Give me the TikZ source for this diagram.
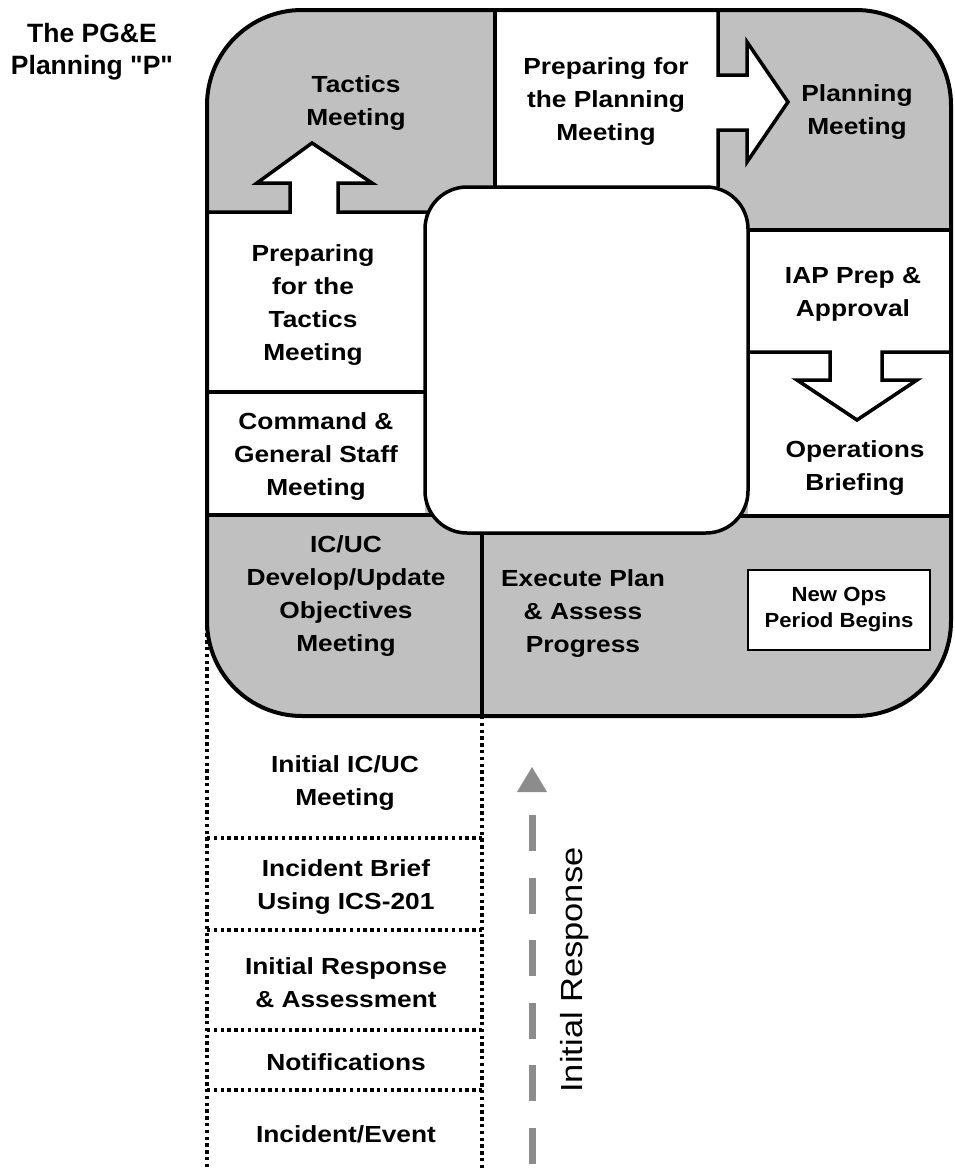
\documentclass[tikz,border=0pt]{standalone}
\usepackage{fontspec}
\setmainfont{Liberation Sans}
\newfontfamily\titlefont{Liberation Sans}
\newfontfamily\lblfont{Liberation Sans}[FakeStretch=1.13]
\newfontfamily\smallfont{Liberation Sans}[FakeStretch=1.08]
\definecolor{panelgray}{RGB}{192,192,192}
\definecolor{flowgray}{RGB}{140,140,140}
\begin{document}
\begin{tikzpicture}[x=1pt,y=-1pt,
  stagetext/.style={align=center, inner sep=0pt,
    font=\lblfont\bfseries\fontsize{23.3}{33}\selectfont},
  rule/.style={line width=3.5pt, line join=miter},
  dotline/.style={line width=3.4pt, dash pattern=on 3.4pt off 3.4pt},
]
\useasboundingbox (0,0) rectangle (954,1170);

% --- title ---
\node[align=center, inner sep=0pt, font=\titlefont\bfseries\fontsize{26.5}{32}\selectfont]
  (title) at (92,52) {The PG\&E\\Planning "P"};

% --- initial response column (dotted) ---
\draw[dotline] (207,613) -- (207,1170);
\draw[dotline] (482,716) -- (482,1170);
\draw[dotline] (207,838) -- (482,838);
\draw[dotline] (207,930) -- (482,930);
\draw[dotline] (207,1030) -- (482,1030);
\draw[dotline] (207,1090) -- (482,1090);

% --- planning cycle body ---
\fill[panelgray, rounded corners=95pt] (207,10) rectangle (951,716);
% white panels with their arrow shapes
\fill[white] (495,10) -- (718,10) -- (718,75) -- (747,75) -- (747,42) -- (788,102)
  -- (747,162) -- (747,130) -- (718,130) -- (718,187) -- (495,187) -- cycle;
\fill[white] (207,212) -- (290,212) -- (290,183) -- (257,183) -- (312,143) -- (372,183)
  -- (338,183) -- (338,212) -- (425,212) -- (425,515) -- (207,515) -- cycle;
\fill[white] (748,230) rectangle (951,516);

% dividers
\draw[rule] (495,10) -- (495,187);
\draw[rule] (718,10) -- (718,75) -- (747,75) -- (747,42) -- (788,102)
  -- (747,162) -- (747,130) -- (718,130) -- (718,187);
\draw[rule] (207,212) -- (290,212) -- (290,183) -- (257,183) -- (312,143) -- (372,183)
  -- (338,183) -- (338,212) -- (440,212);
\draw[rule] (207,392) -- (440,392);
\draw[rule] (207,515) -- (440,515);
\draw[rule] (735,230) -- (951,230);
\draw[rule] (735,352) -- (830,352) -- (830,380) -- (797,380) -- (857,420) -- (917,380)
  -- (882,380) -- (882,352) -- (951,352);
\draw[rule] (735,516) -- (951,516);
\draw[rule] (482,520) -- (482,716);

% central hub
\draw[rule, fill=white, rounded corners=42pt] (425,187) rectangle (748,533);

% outline
\draw[line width=4pt, rounded corners=95pt] (207,10) rectangle (951,716);

% --- stage labels ---
\node[stagetext] (tactics)  at (356,103) {Tactics\\Meeting};
\node[stagetext] (prepplan) at (606,102) {Preparing for\\the Planning\\Meeting};
\node[stagetext] (planning) at (857,112) {Planning\\Meeting};
\node[stagetext] (preptac)  at (313,305) {Preparing\\for the\\Tactics\\Meeting};
\node[stagetext] (cmdgs)    at (316,457) {Command \&\\General Staff\\Meeting};
\node[stagetext] (iap)      at (853,294) {IAP Prep \&\\Approval};
\node[stagetext] (ops)      at (855,468) {Operations\\Briefing};
\node[stagetext] (icuc)     at (346,596) {IC/UC\\Develop/Update\\Objectives\\Meeting};
\node[stagetext] (execute)  at (583,614) {Execute Plan\\\& Assess\\Progress};
\node[draw, line width=2pt, fill=white, align=center, minimum width=182pt,
  minimum height=80pt, inner sep=0pt,
  font=\smallfont\bfseries\fontsize{20.5}{26}\selectfont]
  (newops) at (839,610) {New Ops\\Period Begins};

\node[stagetext] (initic)   at (345,783) {Initial IC/UC\\Meeting};
\node[stagetext] (brief)    at (346,887) {Incident Brief\\Using ICS-201};
\node[stagetext] (initresp) at (346,983) {Initial Response\\\& Assessment};
\node[stagetext] (notif)    at (346,1062) {Notifications};
\node[stagetext] (event)    at (346,1134) {Incident/Event};

% --- initial response flow ---
\coordinate (flowTop) at (532,815);
\coordinate (flowEnd) at (532,1170);
\draw[flowgray, line width=7pt, dash pattern=on 36pt off 26.5pt] (flowTop) -- (flowEnd);
\fill[flowgray] (517,792) -- (547,792) -- (532,767) -- cycle;
\node[rotate=90, inner sep=0pt, font=\lblfont\fontsize{30.5}{36}\selectfont]
  (flowlabel) at (575,970) {Initial Response};
\end{tikzpicture}
\end{document}
